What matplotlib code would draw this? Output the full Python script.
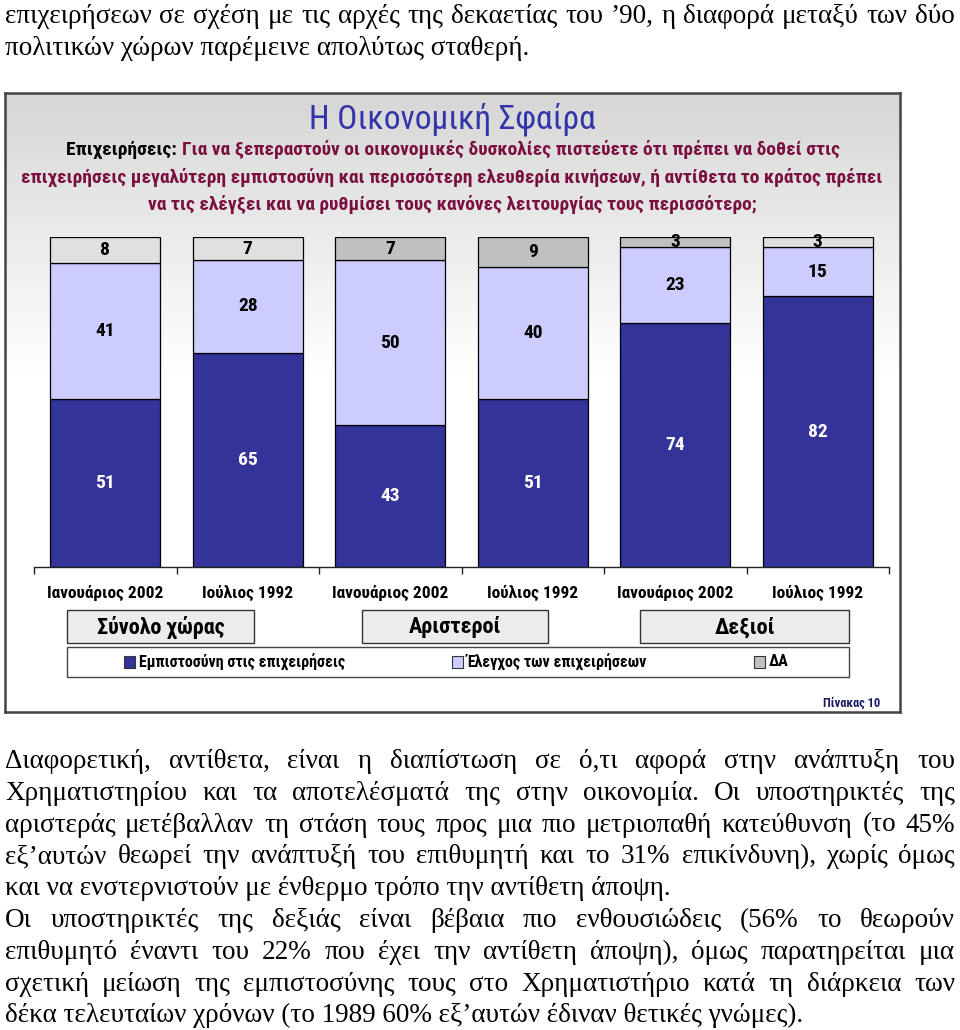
import numpy as np
import matplotlib
matplotlib.use("Agg")
import matplotlib.pyplot as plt
from matplotlib import font_manager
from matplotlib.patches import Rectangle

# ---------------- data ----------------
categories = ["Ιανουάριος 2002", "Ιούλιος 1992", "Ιανουάριος 2002",
              "Ιούλιος 1992", "Ιανουάριος 2002", "Ιούλιος 1992"]
trust = [51, 65, 43, 51, 74, 82]          # Εμπιστοσύνη στις επιχειρήσεις
control = [41, 28, 50, 40, 23, 15]        # Έλεγχος των επιχειρήσεων
dk = [8, 7, 7, 9, 3, 3]                   # ΔΑ
groups = ["Σύνολο χώρας", "Αριστεροί", "Δεξιοί"]
series_names = ["Εμπιστοσύνη στις επιχειρήσεις", "Έλεγχος των επιχειρήσεων", "ΔΑ"]

title = "Η Οικονομική Σφαίρα"
sub_head = "Επιχειρήσεις: "
sub_lines = ["Για να ξεπεραστούν οι οικονομικές δυσκολίες πιστεύετε ότι πρέπει να δοθεί στις",
             "επιχειρήσεις μεγαλύτερη εμπιστοσύνη και περισσότερη ελευθερία κινήσεων, ή αντίθετα το κράτος πρέπει",
             "να τις ελέγξει και να ρυθμίσει τους κανόνες λειτουργίας τους περισσότερο;"]

top_text = ["επιχειρήσεων σε σχέση με τις αρχές της δεκαετίας του ’90, η διαφορά μεταξύ των δύο",
            "πολιτικών χώρων παρέμεινε απολύτως σταθερή."]
bottom_text = [
    "Διαφορετική, αντίθετα, είναι η διαπίστωση σε ό,τι αφορά στην ανάπτυξη του",
    "Χρηματιστηρίου και τα αποτελέσματά της στην οικονομία. Οι υποστηρικτές της",
    "αριστεράς μετέβαλλαν τη στάση τους προς μια πιο μετριοπαθή κατεύθυνση (το 45%",
    "εξ’αυτών θεωρεί την ανάπτυξή του επιθυμητή και το 31% επικίνδυνη), χωρίς όμως",
    "και να ενστερνιστούν με ένθερμο τρόπο την αντίθετη άποψη.",
    "Οι υποστηρικτές της δεξιάς είναι βέβαια πιο ενθουσιώδεις (56% το θεωρούν",
    "επιθυμητό έναντι του 22% που έχει την αντίθετη άποψη), όμως παρατηρείται μια",
    "σχετική μείωση της εμπιστοσύνης τους στο Χρηματιστήριο κατά τη διάρκεια των",
    "δέκα τελευταίων χρόνων (το 1989 60% εξ’αυτών έδιναν θετικές γνώμες).",
]
bottom_justify = [True, True, True, True, False, True, True, True, False]

# ---------------- fonts ----------------
ttf = font_manager.fontManager.ttflist
names = {f.name for f in ttf}


def pick_narrow():
    for n in ["Liberation Sans Narrow", "Arial Narrow", "Roboto Condensed",
              "Open Sans Condensed", "Noto Sans Condensed", "DejaVu Sans Condensed"]:
        if n in names:
            return dict(family=n)
    for fam in ["Noto Sans", "DejaVu Sans", "Open Sans", "Roboto"]:
        for f in ttf:
            if f.name == fam and str(f.stretch) in ("condensed", "semi-condensed",
                                                    "extra-condensed", "75", "87.5", "62.5"):
                return dict(family=fam, fontstretch="condensed")
    for f in ttf:
        if "Condensed" in f.name or "Narrow" in f.name:
            return dict(family=f.name)
    return None


narrow = pick_narrow()
HAVE_NARROW = narrow is not None
if narrow is None:
    narrow = dict(family="Liberation Sans")
SC = 1.0 if HAVE_NARROW else 0.86  # shrink factor if no narrow font
SERIF = "Liberation Serif"

C_DARK = "#333399"
C_LIGHT = "#ccccff"
C_DK_LIGHT = "#e0e0e0"
C_DK_GRAY = "#c0c0c0"
dk_colors = [C_DK_LIGHT, C_DK_LIGHT, C_DK_GRAY, C_DK_GRAY, C_DK_GRAY, C_DK_LIGHT]

W, H = 960, 1030
fig = plt.figure(figsize=(W / 100, H / 100), dpi=100)
fig.patch.set_facecolor("white")


def fx(px):
    return px / W


def fy(py):
    return 1 - py / H


# background frame with gradient
bg = fig.add_axes([fx(5), fy(712), fx(895), (712 - 93) / H])
bg.set_xlim(0, 1)
bg.set_ylim(0, 1)
grad = np.linspace(0, 1, 256)
g = np.clip((grad - 0.55) / 0.45, 0, 1)
shade = 1 - 0.16 * g
img = np.dstack([shade, shade, shade]).reshape(256, 1, 3)
bg.imshow(img, extent=[0, 1, 0, 1], aspect="auto", origin="lower", zorder=0)
for s in bg.spines.values():
    s.set_color("#444444")
    s.set_linewidth(1.8)
bg.set_xticks([])
bg.set_yticks([])

# ---------------- bars ----------------
ax = fig.add_axes([fx(34), fy(567), fx(855), 330 / H])
ax.patch.set_alpha(0)
x = np.arange(len(categories))
bw = 0.77
ax.bar(x, trust, bw, color=C_DARK, edgecolor="black", linewidth=0.9, zorder=2)
ax.bar(x, control, bw, bottom=trust, color=C_LIGHT, edgecolor="black", linewidth=0.9, zorder=2)
bot3 = np.array(trust) + np.array(control)
ax.bar(x, dk, bw, bottom=bot3, color=dk_colors, edgecolor="black", linewidth=0.9, zorder=2)
ax.set_xlim(-0.5, 5.5)
ax.set_ylim(0, 100)
for s in ["top", "right", "left"]:
    ax.spines[s].set_visible(False)
ax.spines["bottom"].set_color("#222222")
ax.spines["bottom"].set_linewidth(1.0)
ax.set_yticks([])
ax.set_xticks(np.arange(-0.5, 6.0, 1.0))
ax.set_xticklabels([])
ax.tick_params(axis="x", direction="out", length=5, width=1.0, color="#222222")

lab_kw = dict(fontweight="bold", fontsize=14 * SC, ha="center", va="center", **narrow)
for i in range(len(categories)):
    ax.text(x[i], trust[i] / 2, str(trust[i]), color="white", **lab_kw)
    ax.text(x[i], trust[i] + control[i] / 2, str(control[i]), color="black", **lab_kw)
    ax.text(x[i], bot3[i] + dk[i] / 2, str(dk[i]), color="black", **lab_kw)
    ax.text(x[i], -7.9, categories[i], color="black", fontweight="bold",
            fontsize=12.5 * SC, ha="center", va="center", **narrow)

# ---------------- title ----------------
fig.text(fx(452), fy(119), title, color="#3333aa", fontsize=24 * SC,
         ha="center", va="center", **narrow)

renderer = fig.canvas.get_renderer()


def text_width(t):
    return t.get_window_extent(renderer=renderer).width


sub_kw = dict(fontweight="bold", fontsize=14 * SC, va="center", **narrow)
sub_color = "#7a1040"
sub_y = [150, 177, 204]
t_head = fig.text(0, fy(sub_y[0]), sub_head, color="black", **sub_kw)
t_rest = fig.text(0, fy(sub_y[0]), sub_lines[0], color=sub_color, **sub_kw)
w1, w2 = text_width(t_head), text_width(t_rest)
x0 = 453 - (w1 + w2) / 2
t_head.set_x(fx(x0))
t_rest.set_x(fx(x0 + w1))
for k in (1, 2):
    t = fig.text(fx(452), fy(sub_y[k]), sub_lines[k], color=sub_color, ha="center", **sub_kw)
    wk = text_width(t)
    if wk > 870:
        t.set_fontsize(t.get_fontsize() * 870 / wk)

# ---------------- group boxes ----------------
group_boxes = [(67, 254), (362, 548), (640, 849)]
for (xa, xb), gname in zip(group_boxes, groups):
    fig.patches.append(Rectangle((fx(xa), fy(643)), fx(xb - xa), 33 / H,
                                 transform=fig.transFigure, facecolor="#ececec",
                                 edgecolor="#333333", linewidth=1.0))
    fig.text(fx((xa + xb) / 2), fy(627), gname, fontweight="bold",
             fontsize=16 * SC, ha="center", va="center", color="black", **narrow)

# ---------------- legend box ----------------
fig.patches.append(Rectangle((fx(67), fy(677)), fx(782), 30 / H,
                             transform=fig.transFigure, facecolor="white",
                             edgecolor="#444444", linewidth=1.0))
leg_colors = [C_DARK, C_LIGHT, C_DK_GRAY]
leg_x = [124, 452, 754]
for lx, lc, ln in zip(leg_x, leg_colors, series_names):
    fig.patches.append(Rectangle((fx(lx), fy(668)), fx(11), 12 / H,
                                 transform=fig.transFigure, facecolor=lc,
                                 edgecolor="#333333", linewidth=0.8))
    fig.text(fx(lx + 15), fy(662), ln, fontweight="bold",
             fontsize=11.5 * SC, ha="left", va="center", color="black", **narrow)

fig.text(fx(880), fy(703), "Πίνακας 10", fontweight="bold",
         fontsize=9 * SC, ha="right", va="center", color="#1a1a66", **narrow)


# ---------------- body text ----------------
def natural_width(s, size):
    t = fig.text(0, 0, s, family=SERIF, fontsize=size)
    w_ = text_width(t)
    t.remove()
    return w_


all_just = [top_text[0]] + [s for s, j in zip(bottom_text, bottom_justify) if j]
size0 = 18
maxw = max(natural_width(s, size0) for s in all_just)
BODY = min(19.5, size0 * 948 / maxw)


def body_line(s, ypx, justify, size, left=5, right=955):
    if not justify:
        fig.text(fx(left), fy(ypx), s, family=SERIF, fontsize=size, ha="left",
                 va="baseline", color="black")
        return
    words = s.split(" ")
    ts = [fig.text(0, fy(ypx), w_, family=SERIF, fontsize=size, ha="left",
                   va="baseline", color="black") for w_ in words]
    ws = [text_width(t) for t in ts]
    gap = (right - left - sum(ws)) / (len(words) - 1)
    cx = left
    for t, w_ in zip(ts, ws):
        t.set_x(fx(cx))
        cx += w_ + gap


body_line(top_text[0], 23, True, BODY)
body_line(top_text[1], 55, False, BODY)
for k, (s, j) in enumerate(zip(bottom_text, bottom_justify)):
    body_line(s, 768 + 31.8 * k, j, BODY)

fig.savefig("out.png", dpi=100, facecolor="white")
